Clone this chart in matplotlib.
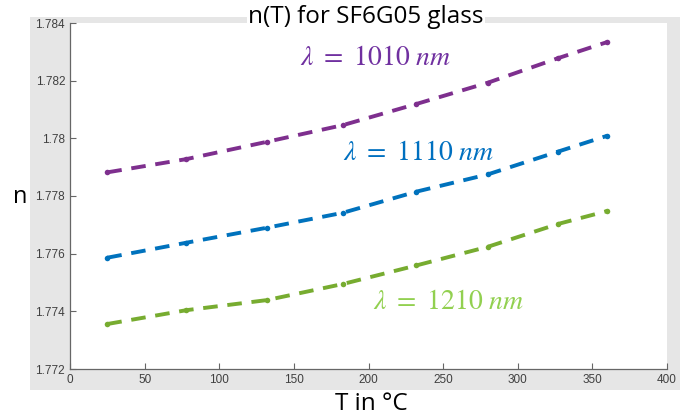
import matplotlib
matplotlib.use("Agg")
import matplotlib.pyplot as plt
from matplotlib.patches import Rectangle

T = [25, 78, 132, 183, 232, 280, 327, 360]
n_1010 = [1.77882, 1.77928, 1.77988, 1.78046, 1.78119, 1.78193, 1.78278, 1.78334]
n_1110 = [1.77586, 1.77638, 1.77690, 1.77742, 1.77815, 1.77875, 1.77954, 1.78009]
n_1210 = [1.77356, 1.77404, 1.77439, 1.77495, 1.77559, 1.77624, 1.77703, 1.77748]
labels = [r"$\lambda\ =\ 1010\ nm$", r"$\lambda\ =\ 1110\ nm$", r"$\lambda\ =\ 1210\ nm$"]
xticks = [0, 50, 100, 150, 200, 250, 300, 350, 400]
yticks = [1.772, 1.774, 1.776, 1.778, 1.78, 1.782, 1.784]
ytick_labels = ["1.772", "1.774", "1.776", "1.778", "1.78", "1.782", "1.784"]

line_colors = ["#7E2F8E", "#0072BD", "#77AC30"]
text_colors = ["#7030A0", "#0070C0", "#92D050"]

plt.rcParams["mathtext.fontset"] = "stix"
plt.rcParams["lines.scale_dashes"] = False

W, H = 687, 418
fig = plt.figure(figsize=(W / 100, H / 100), dpi=100)
fig.patch.set_facecolor("white")

# grey figure area (MATLAB window)
bg = Rectangle((30 / W, 1 - 390 / H), 650 / W, 373 / H,
               transform=fig.transFigure, facecolor="#e6e6e6",
               edgecolor="none", zorder=-10)
fig.add_artist(bg)

ax = fig.add_axes([70 / W, 1 - 369 / H, 597 / W, 346 / H])
ax.set_zorder(1)
ax.set_facecolor("white")

for ys, c in zip([n_1010, n_1110, n_1210], line_colors):
    ax.plot(T, ys, color=c, lw=2.8, dashes=(10.5, 7.0), marker="o",
            markersize=4.0, markeredgewidth=0, dash_capstyle="butt")

ax.set_xlim(0, 400)
ax.set_ylim(1.772, 1.784)
ax.set_xticks(xticks)
ax.set_xticklabels([str(v) for v in xticks])
ax.set_yticks(yticks)
ax.set_yticklabels(ytick_labels)
ax.tick_params(direction="in", length=4, width=0.8, color="#666666",
               labelcolor="#404040", labelsize=8.5)
for lab in ax.get_xticklabels() + ax.get_yticklabels():
    lab.set_family("Liberation Sans")
ax.spines["top"].set_visible(False)
ax.spines["right"].set_visible(False)
for s in ["left", "bottom"]:
    ax.spines[s].set_color("#666666")
    ax.spines[s].set_linewidth(0.9)

# title with white background
fig.text(366 / W, 1 - 17 / H, "n(T) for SF6G05 glass", ha="center", va="center",
         fontsize=17.5, family="Open Sans", color="black", zorder=5,
         bbox=dict(facecolor="white", edgecolor="none", pad=1))
fig.text(20 / W, 1 - 197 / H, "n", ha="center", va="center", fontsize=17,
         family="Open Sans", color="black", zorder=5)
fig.text(371 / W, 1 - 404 / H, "T in °C", ha="center", va="center", fontsize=17.5,
         family="Open Sans", color="black", zorder=5)

# curve labels
fig.text(376 / W, 1 - 57 / H, labels[0], ha="center", va="center", fontsize=20,
         color=text_colors[0], zorder=5)
fig.text(419 / W, 1 - 152 / H, labels[1], ha="center", va="center", fontsize=20,
         color=text_colors[1], zorder=5)
fig.text(449 / W, 1 - 301 / H, labels[2], ha="center", va="center", fontsize=20,
         color=text_colors[2], zorder=5)

fig.savefig("out.png", dpi=100)
